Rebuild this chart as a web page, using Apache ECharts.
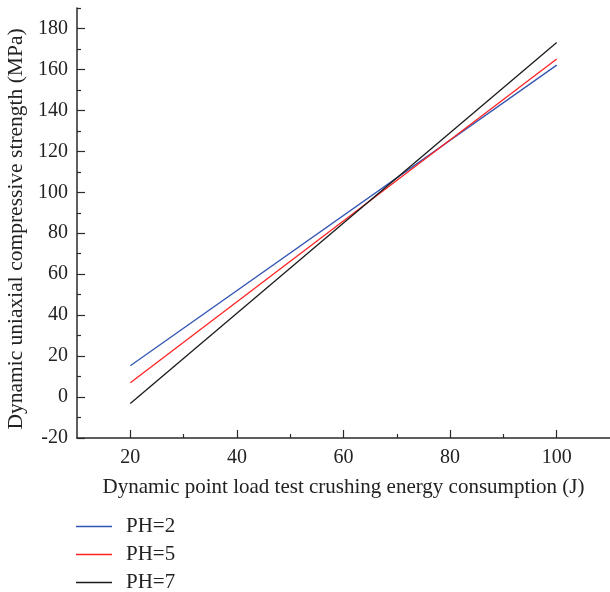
<!DOCTYPE html>
<html><head><meta charset="utf-8">
<script src="https://cdn.jsdelivr.net/npm/echarts@6/dist/echarts.min.js"></script>
<style>html,body{margin:0;padding:0;background:#fff}#c{width:610px;height:592px}</style>
</head><body><div id="c"></div>
<script>
var energyX = [20, 100];
var ph2 = [15.3, 162.1];
var ph5 = [7.0, 165.1];
var ph7 = [-3.2, 173.2];
var seriesNames = ['PH=2', 'PH=5', 'PH=7'];
var xMajorTicks = [20, 40, 60, 80, 100];
var xMinorTicks = [30, 50, 70, 90];
var yMajorTicks = [-20, 0, 20, 40, 60, 80, 100, 120, 140, 160, 180];
var yMinorTicks = [-10, 10, 30, 50, 70, 90, 110, 130, 150, 170, 190];

var FONT = 'Liberation Serif';
var AX = '#2a2a2a';
function pairs(xs, ys){ return xs.map(function(x,i){ return [x, ys[i]]; }); }

var chart = echarts.init(document.getElementById('c'));
chart.setOption({
  animation: false,
  grid: {left: 77, top: 8, right: 0, bottom: 154, containLabel: false, outerBoundsMode: 'none'},
  legend: {
    orient: 'vertical', left: 76, top: 516, height: 100, itemWidth: 36, itemHeight: 1.6, itemGap: 7, padding: 0,
    icon: 'rect',
    textStyle: {fontFamily: FONT, fontSize: 21, lineHeight: 20, color: '#222', padding: [0,0,0,9]},
    data: seriesNames
  },
  xAxis: [{
    type: 'value', min: 10, max: 110, position: 'bottom',
    name: 'Dynamic point load test crushing energy consumption (J)',
    nameLocation: 'middle', nameGap: 39,
    nameTextStyle: {fontFamily: FONT, fontSize: 21, color: '#222'},
    axisLine: {show: true, onZero: false, lineStyle: {color: AX, width: 1.5}},
    axisTick: {show: true, inside: true, length: 8, customValues: xMajorTicks, lineStyle: {color: AX, width: 1.2}},
    axisLabel: {customValues: xMajorTicks, margin: 10, fontFamily: FONT, fontSize: 20, color: '#222'},
    splitLine: {show: false}
  }, {
    type: 'value', min: 10, max: 110, position: 'bottom', offset: 0,
    axisLine: {show: false, onZero: false},
    axisTick: {show: true, inside: true, length: 4, customValues: xMinorTicks, lineStyle: {color: AX, width: 1.2}},
    axisLabel: {show: false},
    splitLine: {show: false}
  }],
  yAxis: [{
    type: 'value', min: -20, max: 190, position: 'left',
    name: 'Dynamic uniaxial compressive strength (MPa)',
    nameLocation: 'middle', nameGap: 45, nameRotate: 90,
    nameTextStyle: {fontFamily: FONT, fontSize: 21.5, color: '#222', padding: [0, 12, 0, 0]},
    axisLine: {show: true, onZero: false, lineStyle: {color: AX, width: 1.5}},
    axisTick: {show: true, inside: true, length: 8, customValues: yMajorTicks, lineStyle: {color: AX, width: 1.2}},
    axisLabel: {customValues: yMajorTicks, margin: 9, fontFamily: FONT, fontSize: 20, color: '#222'},
    splitLine: {show: false}
  }, {
    type: 'value', min: -20, max: 190, position: 'left', offset: 0,
    axisLine: {show: false, onZero: false},
    axisTick: {show: true, inside: true, length: 4, customValues: yMinorTicks, lineStyle: {color: AX, width: 1.2}},
    axisLabel: {show: false},
    splitLine: {show: false}
  }],
  series: [
    {name: seriesNames[0], type: 'line', symbol: 'none', data: pairs(energyX, ph2), lineStyle: {color: '#3355b3', width: 1.3}, itemStyle: {color: '#3355b3'}},
    {name: seriesNames[1], type: 'line', symbol: 'none', data: pairs(energyX, ph5), lineStyle: {color: '#ff2222', width: 1.3}, itemStyle: {color: '#ff2222'}},
    {name: seriesNames[2], type: 'line', symbol: 'none', data: pairs(energyX, ph7), lineStyle: {color: '#1a1a1a', width: 1.3}, itemStyle: {color: '#1a1a1a'}}
  ]
});
</script></body></html>
